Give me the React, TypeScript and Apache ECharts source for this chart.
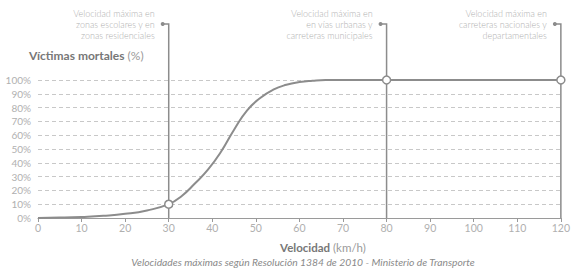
import React, { useEffect, useRef } from "react";
import * as echarts from "echarts";

const speeds = [0, 5, 10, 15, 20, 25, 30, 33, 36, 39, 42, 45, 48, 51, 54, 57, 60, 63, 66, 70, 80, 90, 100, 110, 120];
const victims = [0, 0.3, 0.8, 1.6, 3, 5.5, 10, 16, 25, 35, 48, 64, 78, 87, 93, 96.5, 98.5, 99.5, 100, 100, 100, 100, 100, 100, 100];
const limitPoints: [number, number][] = [[30, 10], [80, 100], [120, 100]];
const limitNotes: string[][] = [
  ["Velocidad máxima en", "zonas escolares y en", "zonas residenciales"],
  ["Velocidad máxima en", "en vías urbanas y", "carreteras municipales"],
  ["Velocidad máxima en", "carreteras nacionales y", "departamentales"],
];
const yTitle = ["Víctimas mortales", " (%)"];
const xTitle = ["Velocidad", " (km/h)"];
const caption = "Velocidades máximas según Resolución 1384 de 2010 - Ministerio de Transporte";

const FONT = "Lato";
const LINE = "#8c8c8c";

export default function App() {
  const ref = useRef<HTMLDivElement>(null);
  useEffect(() => {
    if (!ref.current) return;
    const chart = echarts.init(ref.current, undefined, { renderer: "svg" });
    chart.setOption({
      animation: false,
      textStyle: { fontFamily: FONT },
      grid: { left: 38, right: 7, top: 80, bottom: 53, containLabel: false },
      xAxis: {
        type: "value",
        min: 0,
        max: 120,
        interval: 10,
        axisLine: { lineStyle: { color: "#9a9a9a", width: 1.2 } },
        axisTick: { show: true, length: 4, lineStyle: { color: "#9a9a9a" } },
        axisLabel: { color: "#b0b0b0", fontSize: 10.5, margin: 4, fontFamily: FONT },
        splitLine: { show: false },
      },
      yAxis: {
        type: "value",
        min: 0,
        max: 100,
        interval: 10,
        axisLine: { show: false },
        axisTick: { show: false },
        axisLabel: {
          color: "#b0b0b0",
          fontSize: 10,
          margin: 7,
          formatter: "{value}%",
          fontFamily: FONT,
          padding: [0, 0, 6, 0],
        },
        splitLine: { show: true, lineStyle: { color: "#c8c8c8", type: [4, 3], width: 1 } },
      },
      series: [
        {
          type: "line",
          data: speeds.map((s, i) => [s, victims[i]]),
          smooth: 0.5,
          showSymbol: false,
          lineStyle: { color: LINE, width: 2 },
          z: 3,
        },
        {
          type: "scatter",
          data: limitPoints,
          symbol: "circle",
          symbolSize: 8,
          itemStyle: { color: "#ffffff", borderColor: LINE, borderWidth: 1.5, opacity: 1 },
          z: 5,
        },
      ],
    });

    const graphics: any[] = [];
    const topY = 24;
    const bottom = chart.convertToPixel({ gridIndex: 0 }, [0, 0]) as number[];
    limitPoints.forEach((p, i) => {
      const px = chart.convertToPixel({ gridIndex: 0 }, [p[0], 0]) as number[];
      const x = px[0];
      graphics.push({
        type: "polyline",
        z: 1,
        shape: { points: [[x - 6, topY], [x, topY], [x, bottom[1]]] },
        style: { stroke: LINE, lineWidth: 1.5, fill: null },
      });
      graphics.push({
        type: "circle",
        z: 1,
        shape: { cx: x - 6, cy: topY, r: 2 },
        style: { fill: LINE },
      });
      limitNotes[i].forEach((t, j) => {
        graphics.push({
          type: "text",
          z: 1,
          x: x - 14,
          y: 13 + j * 11,
          style: {
            text: t,
            align: "right",
            verticalAlign: "middle",
            fill: "#b0b0b0",
            font: `300 9px ${FONT}`,
          },
        });
      });
    });
    const rich = (size: number) => ({
      b: { fontFamily: FONT, fontWeight: "bold", fontSize: size, fill: "#777777" },
      n: { fontFamily: FONT, fontWeight: "normal", fontSize: size, fill: "#9a9a9a" },
    });
    graphics.push({
      type: "text",
      x: 29,
      y: 55,
      style: {
        text: `{b|${yTitle[0]}}{n|${yTitle[1]}}`,
        align: "left",
        verticalAlign: "middle",
        rich: rich(12),
      },
    });
    graphics.push({
      type: "text",
      x: 323,
      y: 247,
      style: {
        text: `{b|${xTitle[0]}}{n|${xTitle[1]}}`,
        align: "center",
        verticalAlign: "middle",
        rich: rich(11.5),
      },
    });
    graphics.push({
      type: "text",
      x: 303,
      y: 262,
      style: {
        text: caption,
        align: "center",
        verticalAlign: "middle",
        fill: "#8a8a8a",
        font: `italic 10.3px ${FONT}`,
      },
    });
    chart.setOption({ graphic: graphics });
    return () => chart.dispose();
  }, []);
  return (
    <div
      ref={ref}
      style={{ position: "fixed", left: 0, top: 0, width: 573, height: 271, background: "#fff" }}
    />
  );
}
